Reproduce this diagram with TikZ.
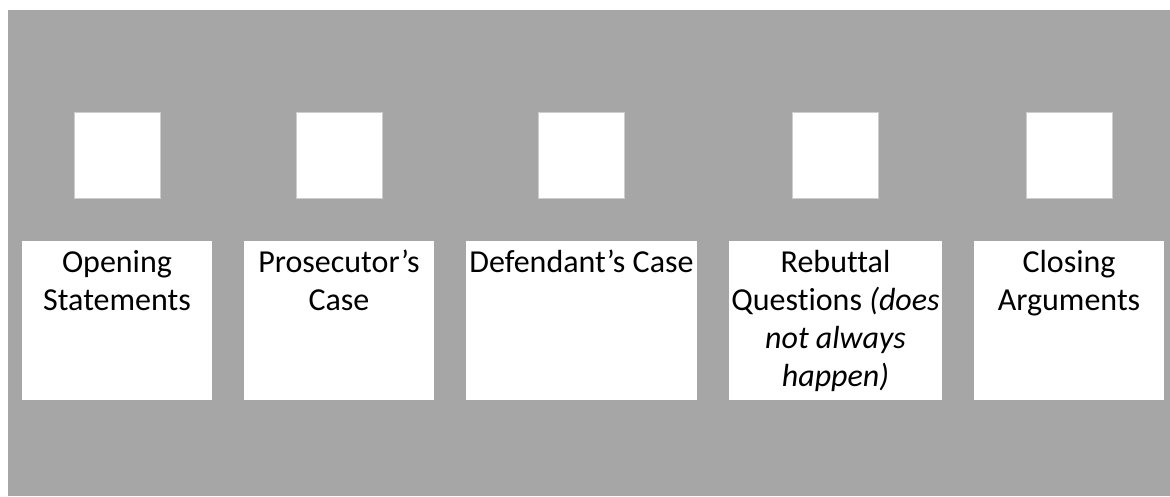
\documentclass[tikz,border=0pt]{standalone}
\usepackage{fontspec}
\setmainfont{Carlito}[Ligatures=NoCommon]
\usetikzlibrary{positioning}
\definecolor{slide}{HTML}{A6A6A6}
\definecolor{frameline}{HTML}{CDCDCD}

\begin{document}
\begin{tikzpicture}[x=0.75pt, y=-0.75pt, node distance=23.6pt,
  stage/.style={fill=white, minimum height=119.25pt, minimum width=142.5pt, inner sep=0pt},
  slot/.style={draw=frameline, line width=0.6pt, fill=white, minimum size=64.5pt, inner sep=0pt},
  caption/.style={anchor=north, align=center, inner sep=0pt, font=\fontsize{24}{28.5}\selectfont}]
\useasboundingbox (0,0) rectangle (1170,496);
\fill[slide] (8,10) rectangle (1170,496);
% stages of the trial
\node[stage] (open) at (117,320.5) {};
\node[stage, right=of open] (prosec) {};
\node[stage, right=of prosec, minimum width=173.25pt] (defend) {};
\node[stage, right=of defend, minimum width=159.75pt] (rebut) {};
\node[stage, right=of rebut] (close) {};
% empty squares above the stages
\foreach \s in {open,prosec,defend,rebut,close}
  \node[slot, above=31.5pt of \s] (\s-sq) {};
% stage texts
\node[caption] (open-txt) at ([yshift=-3.3pt]open.north) {\strut Opening\\Statements};
\node[caption] (prosec-txt) at ([yshift=-3.3pt]prosec.north) {\strut Prosecutor’s\\Case};
\node[caption] (defend-txt) at ([yshift=-3.3pt]defend.north) {\strut Defendant’s Case};
\node[caption] (rebut-txt) at ([yshift=-3.3pt]rebut.north)
  {\strut Rebuttal\\Questions \textit{(does}\\\textit{not always}\\\textit{happen)}};
\node[caption] (close-txt) at ([yshift=-3.3pt]close.north) {\strut Closing\\Arguments};
\end{tikzpicture}
\end{document}
